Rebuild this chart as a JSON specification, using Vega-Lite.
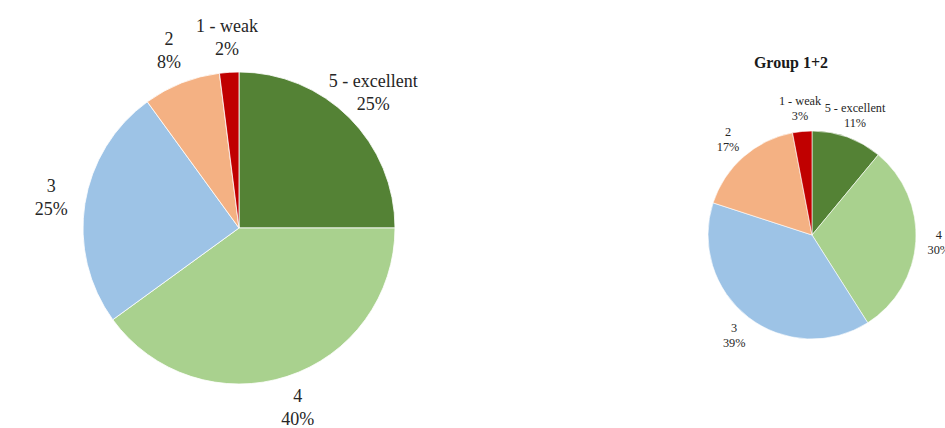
{
  "$schema": "https://vega.github.io/schema/vega-lite/v6.json",
  "padding": {"top": 17, "left": 0, "right": 0, "bottom": 0},
  "spacing": 201,
  "bounds": "flush",
  "background": "white",
  "config": {"view": {"stroke": null}, "font": "Liberation Serif"},
  "datasets": {
    "all": [
      {"category": "5 - excellent", "score": 5, "percent": 25},
      {"category": "4", "score": 4, "percent": 40},
      {"category": "3", "score": 3, "percent": 25},
      {"category": "2", "score": 2, "percent": 8},
      {"category": "1 - weak", "score": 1, "percent": 2}
    ],
    "group12": [
      {"category": "5 - excellent", "score": 5, "percent": 11},
      {"category": "4", "score": 4, "percent": 30},
      {"category": "3", "score": 3, "percent": 39},
      {"category": "2", "score": 2, "percent": 17},
      {"category": "1 - weak", "score": 1, "percent": 3}
    ]
  },
  "hconcat": [
    {
      "width": 478,
      "height": 370,
      "data": {"name": "all"},
      "transform": [{"calculate": "datum.category + '|' + datum.percent + '%'", "as": "label"}],
      "layer": [
        {
          "mark": {"type": "arc", "outerRadius": 156, "stroke": "white", "strokeWidth": 0.8},
          "encoding": {
            "theta": {"field": "percent", "type": "quantitative", "stack": true},
            "order": {"field": "score", "type": "quantitative", "sort": "descending"},
            "color": {
              "field": "category",
              "type": "nominal",
              "scale": {
                "domain": ["5 - excellent", "4", "3", "2", "1 - weak"],
                "range": ["#548235", "#a9d18e", "#9dc3e6", "#f4b183", "#c00000"]
              },
              "legend": null
            }
          }
        },
        {
          "mark": {"type": "text", "radius": 190, "dy": -11.5, "fontSize": 18, "lineHeight": 23, "lineBreak": "|", "fill": "#262626", "baseline": "middle"},
          "encoding": {
            "theta": {"field": "percent", "type": "quantitative", "stack": true},
            "order": {"field": "score", "type": "quantitative", "sort": "descending"},
            "text": {"field": "label", "type": "nominal"}
          }
        }
      ]
    },
    {
      "width": 266,
      "height": 384,
      "layer": [
        {
          "data": {"name": "group12"},
          "mark": {"type": "arc", "outerRadius": 104, "stroke": "white", "strokeWidth": 0.6},
          "encoding": {
            "theta": {"field": "percent", "type": "quantitative", "stack": true},
            "order": {"field": "score", "type": "quantitative", "sort": "descending"},
            "color": {
              "field": "category",
              "type": "nominal",
              "scale": {
                "domain": ["5 - excellent", "4", "3", "2", "1 - weak"],
                "range": ["#548235", "#a9d18e", "#9dc3e6", "#f4b183", "#c00000"]
              },
              "legend": null
            }
          }
        },
        {
          "data": {"name": "group12"},
          "transform": [{"calculate": "datum.category + '|' + datum.percent + '%'", "as": "label"}],
          "mark": {"type": "text", "radius": 127, "dy": -7.5, "fontSize": 12.3, "lineHeight": 15, "lineBreak": "|", "fill": "#262626", "baseline": "middle"},
          "encoding": {
            "theta": {"field": "percent", "type": "quantitative", "stack": true},
            "order": {"field": "score", "type": "quantitative", "sort": "descending"},
            "text": {"field": "label", "type": "nominal"}
          }
        },
        {
          "data": {"values": [{"title": "Group 1+2"}]},
          "mark": {"type": "text", "fontSize": 16, "fontWeight": "bold", "fill": "#1a1a1a", "dx": -21, "dy": -172, "baseline": "middle"},
          "encoding": {"text": {"field": "title", "type": "nominal"}}
        }
      ]
    }
  ]
}
